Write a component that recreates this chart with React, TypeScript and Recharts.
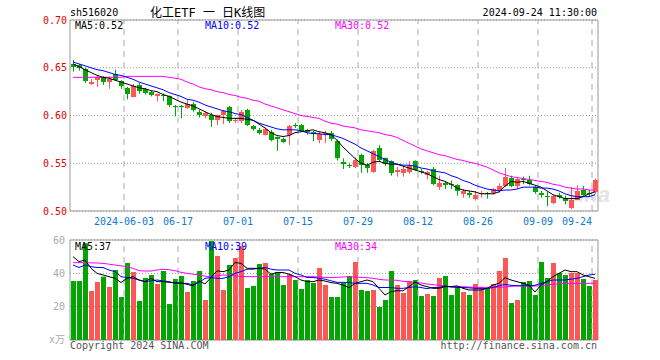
import React from 'react';
import {
  ComposedChart,
  Bar,
  Line,
  XAxis,
  YAxis,
  CartesianGrid,
  ReferenceLine,
  ReferenceArea,
} from 'recharts';

// Trading days shown on the chart (MM-DD, 2024)
const dates = [
  '05-21', '05-22', '05-23', '05-24', '05-27', '05-28', '05-29', '05-30', '05-31',
  '06-03', '06-04', '06-05', '06-06', '06-07', '06-11', '06-12', '06-13', '06-14',
  '06-17', '06-18', '06-19', '06-20', '06-21', '06-24', '06-25', '06-26', '06-27', '06-28',
  '07-01', '07-02', '07-03', '07-04', '07-05', '07-08', '07-09', '07-10', '07-11', '07-12',
  '07-15', '07-16', '07-17', '07-18', '07-19', '07-22', '07-23', '07-24', '07-25', '07-26',
  '07-29', '07-30', '07-31', '08-01', '08-02', '08-05', '08-06', '08-07', '08-08', '08-09',
  '08-12', '08-13', '08-14', '08-15', '08-16', '08-19', '08-20', '08-21', '08-22', '08-23',
  '08-26', '08-27', '08-28', '08-29', '08-30', '09-02', '09-03', '09-04', '09-05', '09-06',
  '09-09', '09-10', '09-11', '09-12', '09-13', '09-18', '09-19', '09-20', '09-23', '09-24',
];

const opens = [
  0.654, 0.653, 0.649, 0.633, 0.637, 0.640, 0.635, 0.643, 0.636, 0.629,
  0.619, 0.632, 0.628, 0.625, 0.620, 0.621, 0.620, 0.610, 0.610, 0.608,
  0.612, 0.604, 0.600, 0.601, 0.595, 0.600, 0.609, 0.594, 0.594, 0.606,
  0.589, 0.585, 0.580, 0.583, 0.577, 0.575, 0.580, 0.590, 0.590, 0.585,
  0.583, 0.574, 0.580, 0.582, 0.573, 0.551, 0.548, 0.546, 0.559, 0.548,
  0.541, 0.566, 0.555, 0.552, 0.541, 0.540, 0.541, 0.552, 0.542, 0.538,
  0.544, 0.525, 0.529, 0.528, 0.527, 0.518, 0.519, 0.513, 0.518, 0.519,
  0.519, 0.521, 0.526, 0.535, 0.526, 0.533, 0.532, 0.525, 0.519, 0.516,
  0.508, 0.517, 0.514, 0.503, 0.512, 0.522, 0.519, 0.520,
];
const highs = [
  0.658, 0.654, 0.650, 0.638, 0.641, 0.641, 0.641, 0.648, 0.637, 0.630,
  0.633, 0.634, 0.629, 0.626, 0.623, 0.623, 0.621, 0.611, 0.611, 0.616,
  0.614, 0.606, 0.604, 0.603, 0.601, 0.606, 0.610, 0.597, 0.606, 0.607,
  0.590, 0.587, 0.587, 0.585, 0.578, 0.577, 0.590, 0.592, 0.591, 0.586,
  0.584, 0.583, 0.584, 0.584, 0.575, 0.555, 0.550, 0.556, 0.560, 0.550,
  0.564, 0.569, 0.556, 0.553, 0.546, 0.547, 0.552, 0.553, 0.544, 0.542,
  0.546, 0.537, 0.531, 0.532, 0.528, 0.523, 0.521, 0.521, 0.521, 0.520,
  0.524, 0.529, 0.545, 0.537, 0.535, 0.536, 0.537, 0.526, 0.521, 0.520,
  0.517, 0.519, 0.516, 0.525, 0.527, 0.526, 0.522, 0.534,
];
const lows = [
  0.646, 0.647, 0.634, 0.632, 0.630, 0.632, 0.628, 0.636, 0.628, 0.617,
  0.619, 0.623, 0.622, 0.620, 0.615, 0.615, 0.609, 0.599, 0.597, 0.607,
  0.604, 0.598, 0.597, 0.588, 0.590, 0.591, 0.592, 0.592, 0.592, 0.589,
  0.584, 0.580, 0.579, 0.573, 0.563, 0.571, 0.569, 0.587, 0.584, 0.580,
  0.573, 0.571, 0.571, 0.573, 0.553, 0.544, 0.545, 0.545, 0.540, 0.540,
  0.540, 0.552, 0.547, 0.537, 0.536, 0.536, 0.539, 0.542, 0.539, 0.533,
  0.527, 0.522, 0.523, 0.523, 0.516, 0.514, 0.514, 0.511, 0.514, 0.513,
  0.517, 0.519, 0.525, 0.525, 0.523, 0.528, 0.527, 0.518, 0.514, 0.505,
  0.507, 0.513, 0.507, 0.502, 0.511, 0.515, 0.515, 0.518,
];
const closes = [
  0.651, 0.650, 0.636, 0.635, 0.640, 0.635, 0.638, 0.637, 0.631, 0.622,
  0.631, 0.626, 0.624, 0.621, 0.622, 0.620, 0.611, 0.609, 0.609, 0.612,
  0.606, 0.601, 0.603, 0.595, 0.600, 0.605, 0.594, 0.595, 0.604, 0.590,
  0.586, 0.582, 0.586, 0.574, 0.575, 0.572, 0.589, 0.589, 0.584, 0.583,
  0.581, 0.581, 0.582, 0.575, 0.555, 0.549, 0.547, 0.553, 0.548, 0.545,
  0.563, 0.553, 0.549, 0.540, 0.543, 0.544, 0.548, 0.543, 0.541, 0.541,
  0.528, 0.529, 0.527, 0.527, 0.521, 0.521, 0.517, 0.517, 0.519, 0.518,
  0.523, 0.526, 0.536, 0.526, 0.533, 0.532, 0.528, 0.520, 0.517, 0.515,
  0.516, 0.515, 0.510, 0.512, 0.521, 0.517, 0.518, 0.532,
];

// moving averages as drawn (they include days before the visible window)
const ma5 = [
  0.654, 0.651, 0.648, 0.645, 0.642, 0.640, 0.639, 0.637, 0.635, 0.633,
  0.631, 0.629, 0.628, 0.626, 0.625, 0.622, 0.620, 0.617, 0.614, 0.612,
  0.610, 0.607, 0.604, 0.601, 0.599, 0.598, 0.597, 0.597, 0.597, 0.596,
  0.595, 0.591, 0.587, 0.582, 0.579, 0.578, 0.579, 0.582, 0.583, 0.584,
  0.585, 0.583, 0.582, 0.580, 0.574, 0.567, 0.561, 0.555, 0.550, 0.548,
  0.551, 0.552, 0.550, 0.549, 0.549, 0.547, 0.545, 0.543, 0.541, 0.539,
  0.536, 0.533, 0.531, 0.528, 0.524, 0.522, 0.521, 0.520, 0.518, 0.518,
  0.518, 0.520, 0.526, 0.531, 0.530, 0.531, 0.529, 0.527, 0.525, 0.521,
  0.517, 0.515, 0.513, 0.513, 0.513, 0.515, 0.518, 0.520,
];
const ma10 = [
  0.656, 0.654, 0.652, 0.650, 0.648, 0.647, 0.645, 0.643, 0.642, 0.640,
  0.638, 0.635, 0.633, 0.631, 0.629, 0.627, 0.624, 0.622, 0.620, 0.617,
  0.616, 0.614, 0.611, 0.609, 0.607, 0.605, 0.604, 0.602, 0.601, 0.598,
  0.595, 0.592, 0.590, 0.588, 0.586, 0.585, 0.585, 0.585, 0.584, 0.582,
  0.581, 0.581, 0.580, 0.580, 0.578, 0.576, 0.573, 0.570, 0.566, 0.563,
  0.560, 0.557, 0.554, 0.551, 0.549, 0.548, 0.548, 0.547, 0.545, 0.544,
  0.542, 0.541, 0.540, 0.537, 0.535, 0.532, 0.530, 0.527, 0.525, 0.523,
  0.522, 0.521, 0.522, 0.522, 0.523, 0.525, 0.525, 0.525, 0.524, 0.524,
  0.523, 0.521, 0.518, 0.516, 0.515, 0.515, 0.515, 0.517,
];
const ma30 = [
  0.640, 0.640, 0.640, 0.640, 0.640, 0.640, 0.640, 0.640, 0.640, 0.641,
  0.641, 0.641, 0.641, 0.641, 0.641, 0.641, 0.640, 0.639, 0.638, 0.635,
  0.633, 0.630, 0.628, 0.627, 0.625, 0.624, 0.622, 0.621, 0.619, 0.618,
  0.616, 0.615, 0.612, 0.610, 0.608, 0.606, 0.604, 0.602, 0.600, 0.599,
  0.598, 0.597, 0.594, 0.592, 0.591, 0.589, 0.588, 0.587, 0.585, 0.584,
  0.583, 0.582, 0.580, 0.579, 0.577, 0.574, 0.571, 0.568, 0.565, 0.563,
  0.561, 0.559, 0.558, 0.556, 0.554, 0.553, 0.551, 0.550, 0.548, 0.546,
  0.543, 0.540, 0.538, 0.536, 0.535, 0.534, 0.533, 0.532, 0.531, 0.530,
  0.528, 0.527, 0.525, 0.524, 0.523, 0.523, 0.522, 0.522,
];

// volume, in 万 shares
const volumes = [
  35.4, 35.4, 58, 29.4, 34.8, 38, 31.8, 42, 25.8, 46.2,
  40.8, 23.4, 37.2, 39, 33.6, 41.4, 21.6, 36.6, 38.4, 28.8,
  35.4, 41.4, 24, 59.4, 50.4, 30, 45, 49.2, 56.4, 31.2,
  32.4, 45.6, 46.2, 39.6, 40.6, 33, 39.6, 36, 30.6, 36,
  34.2, 43.2, 33, 25.8, 25.8, 34.2, 38.4, 46.8, 30, 29.4,
  30, 19.8, 24, 41.4, 33, 28.2, 35.4, 36, 26.4, 27.6,
  26.4, 37.2, 38.4, 27, 31.2, 28.8, 27, 33.6, 31.8, 31.2,
  33.6, 41.4, 49.2, 22.2, 24, 34.8, 35.4, 27, 46.8, 37.2,
  46.2, 40.2, 39, 40.2, 40.2, 36.6, 32.4, 36,
];
const volMa5 = [
  50, 47, 48, 43, 40, 39, 38, 37, 34.5, 37,
  38, 36, 35, 37, 35, 35, 34.6, 34.4, 34.3, 33.4,
  32.5, 35.5, 33.6, 37.5, 41.5, 41, 42, 46.5, 46, 43,
  43, 43, 42.5, 39.5, 40.5, 40.5, 39.5, 38, 36, 35,
  35, 36, 35.4, 34.4, 34, 33, 31.4, 34, 35, 36,
  35, 31, 27, 29, 29.6, 29.5, 32, 34.8, 33, 32,
  31, 31, 32, 32, 32.5, 31, 30, 30, 30, 31,
  33, 34, 37.4, 36, 35, 34, 33, 28.8, 33, 35,
  38, 40, 42, 41, 41, 39, 38, 37,
];
const volMa10 = [
  45, 43.5, 45, 44, 43.5, 43.5, 42, 41, 38, 37.5,
  37, 36, 35, 35.5, 36, 35.5, 35, 34, 34, 34,
  33, 34.5, 37, 37.5, 37, 37, 38, 40, 41, 42.5,
  42.5, 43, 43.5, 42.5, 42, 42, 42, 40, 39, 37.5,
  37.5, 37, 36.5, 35.5, 34.6, 34.6, 34.5, 34, 34, 34,
  33, 31.5, 31.5, 31.5, 31, 31, 31.5, 32, 31.5, 30.8,
  31.5, 31.5, 32.5, 31.8, 31.5, 31.5, 31.3, 31, 31, 30.8,
  31.5, 32.5, 33.4, 32.8, 32.6, 32.6, 32.6, 32.8, 34, 35,
  36, 36, 36, 36.5, 37, 38, 39, 39.4,
];
const volMa30 = [
  46.4, 46.4, 46.4, 46.3, 46.2, 46, 45.5, 45, 44.5, 44,
  43, 41.6, 41.4, 41.4, 42, 42.4, 42.2, 41.6, 40.6, 40,
  39.5, 39, 38.3, 38, 38.6, 39, 38.8, 38.4, 38.2, 38,
  38, 38, 38, 38, 38, 38, 38, 38, 38, 38,
  38, 37.8, 37.6, 37.4, 37.6, 37.8, 38, 37.8, 37.6, 37.4,
  37, 36.4, 36, 36, 35.8, 35.2, 35, 34.6, 34.2, 33.6,
  33.2, 32.8, 32.4, 32, 32, 32, 31.8, 31.6, 31.6, 31.6,
  31.6, 31.6, 31.8, 32.2, 32.4, 32.4, 32.2, 32.4, 32.6, 33,
  33.4, 33.8, 34, 34, 34, 34, 34, 34,
];

const dateTicks = ['06-03', '06-17', '07-01', '07-15', '07-29', '08-12', '08-26', '09-09', '09-24'];
const priceTicks = [0.5, 0.55, 0.6, 0.65, 0.7];
const volTicks = [20, 40, 60];

const RED = '#fc5656';
const GREEN = '#02a502';
const MONO = '"DejaVu Sans Mono", "Noto Sans CJK SC", monospace';

const rows = dates.map((date, i) => ({
  date,
  open: opens[i],
  high: highs[i],
  low: lows[i],
  close: closes[i],
  ma5: ma5[i],
  ma10: ma10[i],
  ma30: ma30[i],
  vol: volumes[i],
  vma5: volMa5[i],
  vma10: volMa10[i],
  vma30: volMa30[i],
  up: closes[i] > opens[i],
}));

// Candle drawn inside the [low, high] range bar that Recharts lays out
function Candle(props: any) {
  const { x, y, width, height, payload } = props;
  if (!payload) return null;
  const { open, close, high, low, up } = payload;
  const color = up ? RED : GREEN;
  const top0 = Math.min(y, y + height);
  const h = Math.abs(height);
  const span = high - low || 1;
  const yOf = (v: number) => top0 + ((high - v) / span) * h;
  const left = Math.floor(x);
  const w = Math.round(width);
  const cx = left + Math.floor(w / 2) + 0.5;
  const bTop = Math.round(yOf(Math.max(open, close)));
  const bBot = Math.round(yOf(Math.min(open, close)));
  return (
    <g>
      <line x1={cx} x2={cx} y1={top0} y2={top0 + h} stroke={color} strokeWidth={1} />
      <rect x={left} y={bTop} width={w} height={Math.max(1, bBot - bTop)} fill={color} />
    </g>
  );
}

function VolBar(props: any) {
  const { x, y, width, height, payload } = props;
  if (!payload) return null;
  return (
    <rect x={Math.floor(x)} y={y} width={Math.round(width)} height={height} fill={payload.up ? RED : GREEN} />
  );
}

function DateLabel(props: any) {
  const { viewBox, text, anchor } = props;
  if (!viewBox) return null;
  return (
    <text
      x={viewBox.x}
      y={viewBox.y + viewBox.height + 14}
      textAnchor={anchor}
      fill="#0b79d0"
      fontSize={10}
      fontFamily={MONO}
    >
      {text}
    </text>
  );
}

function Txt({ children, left, right, top, color = '#000', size = 10 }: any) {
  return (
    <div
      style={{
        position: 'absolute',
        left,
        right,
        top,
        color,
        fontSize: size,
        lineHeight: `${size + 2}px`,
        fontFamily: MONO,
        whiteSpace: 'nowrap',
      }}
    >
      {children}
    </div>
  );
}

export default function App() {
  const last = rows.length - 1;
  return (
    <div style={{ position: 'absolute', left: 0, top: 0, width: 660, height: 360, background: '#fff', overflow: 'hidden' }}>
      {/* watermark, behind the candles */}
      <div
        style={{
          position: 'absolute',
          left: 566,
          top: 182,
          fontSize: 22,
          fontStyle: 'italic',
          fontWeight: 'bold',
          fontFamily: '"Liberation Sans", sans-serif',
          color: '#e4e4e4',
        }}
      >
        sina
      </div>

      <Txt left={70} top={7}>sh516020</Txt>
      <Txt left={150} top={5.5} size={12}>化工ETF 一 日K线图</Txt>
      <Txt right={63} top={7}>2024-09-24 11:30:00</Txt>

      <div style={{ position: 'absolute', left: 0, top: 0 }}>
        <ComposedChart width={660} height={230} data={rows} margin={{ top: 20, right: 62, bottom: 19, left: 0 }}>
          <CartesianGrid vertical={false} stroke="#999" strokeDasharray="1 2" />
          <XAxis dataKey="date" type="category" hide />
          <YAxis
            domain={[0.5, 0.7]}
            ticks={priceTicks}
            width={70}
            tickLine={false}
            axisLine={false}
            tickSize={0}
            tickMargin={3}
            tick={{ fill: '#e60000', fontSize: 10, fontFamily: MONO }}
            tickFormatter={(v: number) => v.toFixed(2)}
          />
          {dateTicks.map((d, k) => (
            <ReferenceLine
              key={d}
              x={d}
              position="start"
              stroke="#aaa"
              strokeDasharray="6 5"
              label={
                <DateLabel
                  text={k === 0 ? `2024-${d}` : d}
                  anchor={k === dateTicks.length - 1 ? 'end' : 'middle'}
                />
              }
            />
          ))}
          <ReferenceArea x1={rows[0].date} x2={rows[last].date} y1={0.5} y2={0.7} fill="none" stroke="#999" />
          <Bar
            dataKey={(d: any) => [d.low, d.high]}
            barSize={5}
            shape={(p: any) => <Candle {...p} />}
            isAnimationActive={false}
          />
          <Line dataKey="ma30" stroke="#ff00ff" strokeWidth={1} dot={false} isAnimationActive={false} />
          <Line dataKey="ma10" stroke="#0000ff" strokeWidth={1} dot={false} isAnimationActive={false} />
          <Line dataKey="ma5" stroke="#000" strokeWidth={1} dot={false} isAnimationActive={false} />
        </ComposedChart>
      </div>

      <div style={{ position: 'absolute', left: 0, top: 230 }}>
        <ComposedChart width={660} height={130} data={rows} margin={{ top: 10, right: 62, bottom: 20, left: 0 }}>
          <CartesianGrid vertical={false} stroke="#999" strokeDasharray="1 2" />
          <XAxis dataKey="date" type="category" hide />
          <YAxis
            domain={[0, 60]}
            ticks={volTicks}
            width={70}
            tickLine={false}
            axisLine={false}
            tickSize={0}
            tickMargin={5}
            tick={{ fill: '#aaa', fontSize: 10, fontFamily: MONO }}
          />
          {dateTicks.map((d) => (
            <ReferenceLine key={d} x={d} position="start" stroke="#aaa" strokeDasharray="6 5" />
          ))}
          <ReferenceArea x1={rows[0].date} x2={rows[last].date} y1={0} y2={60} fill="none" stroke="#999" />
          <Bar dataKey="vol" barSize={5} shape={(p: any) => <VolBar {...p} />} isAnimationActive={false} />
          <Line dataKey="vma30" stroke="#ff00ff" strokeWidth={1} dot={false} isAnimationActive={false} />
          <Line dataKey="vma10" stroke="#0000ff" strokeWidth={1} dot={false} isAnimationActive={false} />
          <Line dataKey="vma5" stroke="#000" strokeWidth={1} dot={false} isAnimationActive={false} />
        </ComposedChart>
      </div>

      <Txt left={75} top={20}>MA5:0.52</Txt>
      <Txt left={205} top={20} color="#0000ff">MA10:0.52</Txt>
      <Txt left={335} top={20} color="#ff00ff">MA30:0.52</Txt>

      <Txt left={75} top={240.5}>MA5:37</Txt>
      <Txt left={205} top={240.5} color="#0000ff">MA10:39</Txt>
      <Txt left={335} top={240.5} color="#ff00ff">MA30:34</Txt>

      <Txt left={49} top={334} color="#aaa">x万</Txt>
      <Txt left={70} top={339.5} color="#555">Copyright 2024 SINA.COM</Txt>
      <Txt right={63} top={339.5} color="#555">http://finance.sina.com.cn</Txt>
    </div>
  );
}
